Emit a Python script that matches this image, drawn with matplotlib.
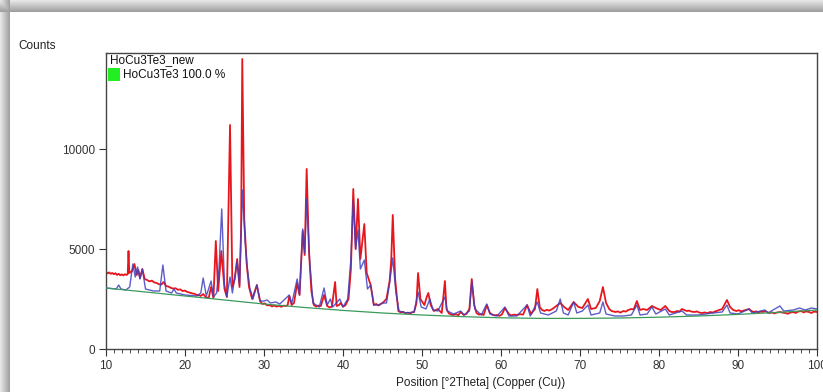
import numpy as np
import matplotlib.pyplot as plt
from matplotlib.patches import Rectangle
from matplotlib.ticker import MultipleLocator

plt.rcParams['font.family'] = ['Liberation Sans', 'DejaVu Sans']

# observed pattern (red)
obs_x = [10.0, 10.2, 10.4, 10.6, 10.8, 11.0, 11.2, 11.4, 11.6, 11.8, 12.0, 12.2, 12.4, 12.6,
         12.75, 12.85, 12.95, 13.3, 13.6, 13.9, 14.1, 14.3, 14.6, 14.9, 15.2, 15.5, 15.8, 16.1,
         16.4, 16.7, 17.0, 17.3, 17.6, 17.9, 18.2, 18.5, 18.8, 19.1, 19.4, 19.7, 20.0, 20.3,
         20.6, 20.9, 21.2, 21.5, 21.8, 22.0, 22.3, 22.6, 23.0, 23.3, 23.6, 23.9, 24.2, 24.6,
         25.0, 25.3, 25.7, 26.0, 26.3, 26.6, 26.9, 27.1, 27.25, 27.5, 27.8, 28.1, 28.5, 29.1,
         29.5, 29.8, 30.1, 30.4, 30.7, 31.0, 31.3, 31.6, 31.9, 32.2, 32.5, 32.8, 33.0, 33.2,
         33.5, 33.8, 34.2, 34.5, 34.9, 35.15, 35.4, 35.7, 36.0, 36.3, 36.6, 36.9, 37.2, 37.6,
         38.0, 38.3, 38.6, 39.0, 39.2, 39.5, 39.7, 40.0, 40.3, 40.7, 41.0, 41.3, 41.6, 41.9,
         42.2, 42.7, 43.0, 43.5, 43.9, 44.2, 44.5, 44.8, 45.0, 45.5, 45.9, 46.1, 46.3, 46.6,
         47.0, 47.3, 47.6, 47.9, 48.2, 48.5, 48.8, 49.0, 49.3, 49.5, 49.8, 50.3, 50.6, 50.8,
         51.1, 51.5, 52.0, 52.5, 52.9, 53.1, 53.4, 53.7, 54.0, 54.3, 54.6, 54.9, 55.3, 55.6,
         56.0, 56.3, 56.6, 56.9, 57.2, 57.5, 57.8, 58.2, 58.6, 58.9, 59.2, 59.5, 59.8, 60.1,
         60.5, 61.0, 61.3, 61.6, 62.0, 62.4, 62.8, 63.3, 63.8, 64.3, 64.6, 64.9, 65.2, 65.5,
         65.8, 66.1, 66.5, 67.0, 67.5, 68.0, 68.5, 69.2, 69.8, 70.3, 71.0, 71.4, 72.0, 72.5,
         72.9, 73.3, 73.7, 74.0, 74.5, 74.8, 75.1, 75.5, 75.8, 76.1, 76.5, 76.8, 77.2, 77.6,
         78.0, 78.5, 79.1, 79.6, 80.2, 80.8, 81.3, 81.6, 82.0, 82.3, 82.6, 82.9, 83.2, 83.5,
         83.8, 84.1, 84.5, 84.8, 85.1, 85.5, 85.8, 86.1, 86.5, 86.8, 87.1, 87.3, 87.6, 88.0,
         88.6, 89.0, 89.4, 89.8, 90.1, 90.4, 90.7, 91.0, 91.4, 91.7, 92.0, 92.3, 92.6, 92.9,
         93.2, 93.4, 93.7, 94.0, 94.3, 94.6, 94.9, 95.3, 95.6, 96.0, 96.3, 96.6, 97.0, 97.3,
         97.6, 98.0, 98.3, 98.6, 99.0, 99.3, 99.6, 100.0]
obs_y = [3850, 3780, 3830, 3760, 3800, 3740, 3790, 3700, 3760, 3690, 3730, 3680, 3740, 3700,
         3750, 4900, 3800, 3900, 4250, 3700, 3950, 3550, 4000, 3500, 3450, 3380, 3420, 3330,
         3300, 3240, 3220, 3350, 3150, 3120, 3060, 3020, 3040, 2960, 2980, 2900, 2920, 2850,
         2820, 2780, 2760, 2700, 2690, 2650, 2750, 2600, 2550, 3100, 2550, 5400, 2900, 4900,
         3000, 2600, 11200, 3100, 3500, 4500, 3100, 6000, 14500, 6500, 4300, 3100, 2500, 3200,
         2400, 2250, 2280, 2180, 2200, 2130, 2170, 2120, 2160, 2110, 2170, 2150, 2200, 2650,
         2200, 2300, 3300, 2700, 5900, 4700, 9000, 4800, 2900, 2200, 2120, 2170, 2150, 2700,
         2150, 2080, 2120, 3350, 2150, 2200, 2300, 2120, 2180, 2500, 4000, 8000, 5000, 7500,
         4500, 6250, 3800, 3200, 2200, 2250, 2180, 2260, 2300, 2500, 3400, 4400, 6700, 3500,
         1900, 1830, 1860, 1790, 1820, 1780, 1840, 1850, 2300, 3800, 2500, 2200, 2600, 2800,
         2200, 1900, 2000, 1800, 3400, 2000, 1780, 1720, 1700, 1740, 1690, 1850, 1700, 1750,
         2000, 3500, 2200, 1800, 1720, 1750, 1700, 2200, 1800, 1720, 1680, 1700, 1660, 1720,
         2050, 1750, 1680, 1720, 1700, 1740, 1720, 2200, 1750, 2000, 3000, 2100, 1950, 1900,
         1960, 1920, 2000, 2150, 2300, 2100, 1950, 2350, 2100, 2050, 2500, 2000, 2050, 2400,
         3100, 2300, 2000, 1900, 1850, 1880, 1820, 1900, 1870, 1950, 2000, 1980, 2400, 1950,
         2000, 1950, 2150, 2050, 1950, 2150, 1900, 1850, 1850, 1900, 1870, 2000, 1950, 1900,
         1920, 1870, 1850, 1880, 1820, 1800, 1830, 1790, 1850, 1820, 1880, 1900, 1950, 2000,
         2450, 2100, 1950, 1900, 1940, 1880, 1920, 1950, 2000, 1900, 1850, 1880, 1830, 1870,
         1850, 1900, 1840, 1800, 1830, 1780, 1820, 1850, 1820, 1800, 1760, 1820, 1850, 1800,
         1870, 1900, 1830, 1880, 1850, 1800, 1870, 1850]

# calculated pattern (blue)
calc_x = [10.0, 11.3, 11.6, 11.9, 12.5, 13.0, 13.4, 13.7, 14.0, 14.3, 14.6, 15.0, 16.0, 16.8,
          17.2, 17.6, 18.3, 18.6, 18.9, 20.0, 21.5, 22.0, 22.3, 22.7, 23.3, 23.6, 24.0, 24.3,
          24.65, 25.0, 25.3, 25.7, 26.0, 26.6, 26.9, 27.1, 27.3, 27.6, 27.9, 28.2, 28.6, 29.1,
          29.5, 30.0, 30.4, 30.8, 31.5, 32.0, 33.2, 33.5, 34.2, 34.5, 34.9, 35.15, 35.4, 35.8,
          36.2, 37.0, 37.6, 38.0, 38.4, 38.7, 39.6, 40.0, 40.6, 41.0, 41.3, 41.6, 41.9, 42.2,
          42.7, 43.1, 43.5, 43.9, 44.6, 45.0, 45.5, 45.9, 46.3, 46.7, 47.1, 48.0, 49.0, 49.5,
          49.9, 50.5, 51.0, 51.4, 52.0, 52.9, 53.2, 54.0, 54.9, 55.3, 56.0, 56.3, 56.7, 57.5,
          58.2, 58.6, 59.5, 60.5, 61.0, 62.0, 63.3, 63.7, 64.6, 65.0, 66.0, 67.0, 67.5, 67.9,
          68.5, 69.2, 69.6, 70.3, 71.0, 71.4, 72.5, 72.9, 73.3, 74.4, 75.5, 76.5, 77.2, 77.6,
          78.5, 79.1, 79.6, 80.8, 81.3, 82.9, 83.5, 85.0, 86.8, 88.0, 88.6, 89.0, 90.0, 91.4,
          91.8, 93.4, 93.8, 95.3, 95.8, 97.0, 97.8, 98.5, 99.3, 100.0]
calc_y = [3050, 3000, 3200, 3000, 2950, 3100, 4250, 3600, 4100, 3500, 4000, 3000, 2900, 2900,
          4200, 2900, 2800, 3000, 2800, 2700, 2650, 2800, 3550, 2650, 3400, 2600, 2800, 4000,
          7000, 3200, 2600, 3600, 2800, 4400, 3200, 5800, 7950, 5400, 4000, 3050, 2500, 3200,
          2400, 2400, 2450, 2300, 2350, 2250, 2700, 2250, 3500, 2700, 6000, 4800, 7500, 4300,
          2300, 2100, 3050, 2200, 2500, 2100, 2500, 2100, 2500, 4500, 7450, 5000, 5950, 4000,
          4450, 3000, 3200, 2200, 2200, 2300, 2300, 3300, 4550, 2800, 1900, 1800, 1850, 2850,
          2100, 2000, 2500, 1950, 1900, 2600, 1900, 1750, 1900, 1700, 1900, 3400, 2000, 1700,
          2250, 1750, 1650, 2100, 1650, 1650, 2200, 1650, 2350, 1800, 1700, 1900, 2500, 1800,
          1700, 2350, 1800, 1900, 2200, 1700, 1800, 2350, 1750, 1650, 1650, 1700, 2200, 1700,
          1750, 2100, 1750, 2000, 1700, 1900, 1700, 1700, 1800, 1850, 2200, 1800, 1750, 2000,
          1800, 1950, 1800, 2150, 1900, 1950, 2050, 1950, 2050, 2000]

# background (green)
bg_x = [10, 15, 20, 25, 30, 35, 40, 45, 50, 55, 60, 65, 70, 75, 80, 85, 90, 95, 100]
bg_y = [3050, 2850, 2650, 2450, 2250, 2080, 1930, 1800, 1700, 1620, 1560, 1530, 1530,
        1550, 1590, 1650, 1730, 1830, 1950]

W, H = 823, 392
fig = plt.figure(figsize=(W / 100, H / 100), dpi=100)
fig.patch.set_facecolor('white')

# screenshot drop shadow along the top and left edges
shade = fig.add_axes([0, 0, 1, 1], zorder=-5)
rows = np.clip(np.arange(H) / 12.0, 0, 1)
cols = np.clip(np.arange(W) / 10.0, 0, 1)
top = np.where(np.arange(H) < 12, 0.9 - 0.3 * rows, 1.0)
left = np.where(np.arange(W) < 10, 0.9 - 0.3 * cols, 1.0)
img = np.minimum(top[:, None], left[None, :])
shade.imshow(img, cmap='gray', vmin=0, vmax=1, aspect='auto', interpolation='bilinear')
shade.axis('off')

ax = fig.add_axes([106 / W, 1 - 349 / H, 711 / W, 296 / H])
ax.plot(obs_x, obs_y, color='#e8161c', lw=1.3, zorder=2)
ax.plot(calc_x, calc_y, color='#4040c0', lw=1.0, alpha=0.85, zorder=3)
ax.plot(bg_x, bg_y, color='#3a9a5a', lw=0.9, zorder=4)

ax.set_xlim(10, 100)
ax.set_ylim(0, 14800)
ax.xaxis.set_major_locator(MultipleLocator(10))
ax.xaxis.set_minor_locator(MultipleLocator(1))
ax.set_yticks([0, 5000, 10000])
ax.tick_params(axis='both', which='major', direction='out', length=5, width=0.8,
               labelsize=8.5, colors='#333333', pad=3)
ax.tick_params(axis='x', which='minor', direction='out', length=3, width=0.6, colors='#333333')
for s in ax.spines.values():
    s.set_color('#444444')
    s.set_linewidth(1.0)

ax.set_xlabel('Position [°2Theta] (Copper (Cu))', fontsize=8.5, color='#222222')
ax.xaxis.set_label_coords(0.527, -0.095)
fig.text(18 / W, 1 - 46 / H, 'Counts', fontsize=8.5, color='#222222', va='center')

ax.text(0.005, 0.975, 'HoCu3Te3_new', transform=ax.transAxes, fontsize=8.5,
        va='center', ha='left', color='#111111')
ax.add_patch(Rectangle((0.003, 0.905), 0.017, 0.045, transform=ax.transAxes,
                       facecolor='#22ee22', edgecolor='none'))
ax.text(0.024, 0.927, 'HoCu3Te3 100.0 %', transform=ax.transAxes, fontsize=8.5,
        va='center', ha='left', color='#111111')

fig.savefig('out.png', dpi=100)
